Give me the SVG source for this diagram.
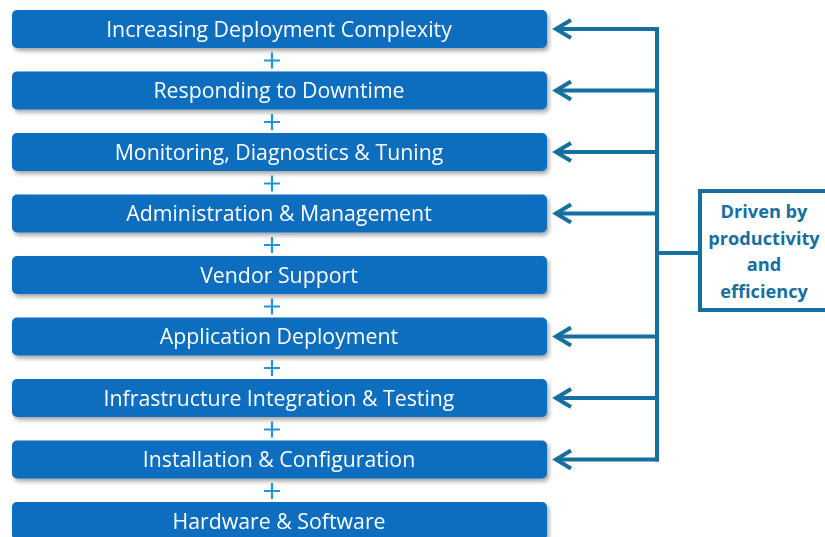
<svg xmlns="http://www.w3.org/2000/svg" width="825" height="537" viewBox="0 0 825 537">
  <style>
    .bar { fill: #0B6DBF; }
    .bar-label { font-family: "Open Sans", "Liberation Sans", sans-serif; font-size: 21.3px; fill: #ffffff; text-anchor: middle; }
    .plus { stroke: #1E97D4; stroke-width: 2.2; fill: none; }
    .link { stroke: #15709F; stroke-width: 4; fill: none; }
    .head { stroke: #15709F; stroke-width: 4; fill: none; stroke-linecap: butt; stroke-linejoin: miter; }
    .note-box { fill: #ffffff; stroke: #15709F; stroke-width: 4; }
    .note-text { font-family: "Open Sans", "Liberation Sans", sans-serif; font-size: 18.2px; font-weight: bold; fill: #15709F; text-anchor: middle; }
  </style>
  <defs>
    <filter id="shadow" x="-5%" y="-30%" width="110%" height="170%">
      <feGaussianBlur in="SourceAlpha" stdDeviation="2"/>
      <feOffset dx="1.5" dy="3" result="b"/>
      <feComponentTransfer><feFuncA type="linear" slope="0.35"/></feComponentTransfer>
      <feMerge><feMergeNode/><feMergeNode in="SourceGraphic"/></feMerge>
    </filter>
    <path id="plusSign" d="M -8 0 H 8 M 0 -8 V 8"/>
  </defs>
  <rect width="825" height="537" fill="#ffffff"/>

  <!-- stacked layers -->
  <g id="layer-1" filter="url(#shadow)"><rect class="bar" x="12" y="10" width="535" height="38" rx="5"/><text class="bar-label" x="279" y="36.5">Increasing Deployment Complexity</text></g>
  <g id="layer-2" filter="url(#shadow)"><rect class="bar" x="12" y="71.5" width="535" height="38" rx="5"/><text class="bar-label" x="279" y="98">Responding to Downtime</text></g>
  <g id="layer-3" filter="url(#shadow)"><rect class="bar" x="12" y="133" width="535" height="38" rx="5"/><text class="bar-label" x="279" y="159.5">Monitoring, Diagnostics &amp; Tuning</text></g>
  <g id="layer-4" filter="url(#shadow)"><rect class="bar" x="12" y="194.5" width="535" height="38" rx="5"/><text class="bar-label" x="279" y="221">Administration &amp; Management</text></g>
  <g id="layer-5" filter="url(#shadow)"><rect class="bar" x="12" y="256" width="535" height="38" rx="5"/><text class="bar-label" x="279" y="282.5">Vendor Support</text></g>
  <g id="layer-6" filter="url(#shadow)"><rect class="bar" x="12" y="317.5" width="535" height="38" rx="5"/><text class="bar-label" x="279" y="344">Application Deployment</text></g>
  <g id="layer-7" filter="url(#shadow)"><rect class="bar" x="12" y="379" width="535" height="38" rx="5"/><text class="bar-label" x="279" y="405.5">Infrastructure Integration &amp; Testing</text></g>
  <g id="layer-8" filter="url(#shadow)"><rect class="bar" x="12" y="440.5" width="535" height="38" rx="5"/><text class="bar-label" x="279" y="467">Installation &amp; Configuration</text></g>
  <g id="layer-9" filter="url(#shadow)"><rect class="bar" x="12" y="502" width="535" height="38" rx="5"/><text class="bar-label" x="279" y="528.5">Hardware &amp; Software</text></g>

  <!-- plus signs between layers -->
  <g id="plus-signs" class="plus">
    <use href="#plusSign" x="272" y="60.5"/>
    <use href="#plusSign" x="272" y="122"/>
    <use href="#plusSign" x="272" y="183.5"/>
    <use href="#plusSign" x="272" y="245"/>
    <use href="#plusSign" x="272" y="306.5"/>
    <use href="#plusSign" x="272" y="368"/>
    <use href="#plusSign" x="272" y="429.5"/>
    <use href="#plusSign" x="272" y="491"/>
  </g>

  <!-- driver note -->
  <g id="driver-note">
    <rect class="note-box" x="700" y="191" width="130" height="119"/>
    <text class="note-text" x="764" y="218">Driven by</text>
    <text class="note-text" x="764" y="244.5">productivity</text>
    <text class="note-text" x="764" y="271">and</text>
    <text class="note-text" x="764" y="297.5">efficiency</text>
  </g>

  <!-- connectors -->
  <g id="connectors">
    <path class="link" d="M 657 27 V 461.5"/>
    <path class="link" d="M 657 253 H 700"/>
    <path class="link" d="M 659 29 H 556"/>
    <path class="link" d="M 657 90.5 H 556"/>
    <path class="link" d="M 657 152 H 556"/>
    <path class="link" d="M 657 213.5 H 556"/>
    <path class="link" d="M 657 336.5 H 556"/>
    <path class="link" d="M 657 398 H 556"/>
    <path class="link" d="M 659 459.5 H 556"/>
    <path class="head" d="M 571 20 L 556 29 L 571 38"/>
    <path class="head" d="M 571 81.5 L 556 90.5 L 571 99.5"/>
    <path class="head" d="M 571 143 L 556 152 L 571 161"/>
    <path class="head" d="M 571 204.5 L 556 213.5 L 571 222.5"/>
    <path class="head" d="M 571 327.5 L 556 336.5 L 571 345.5"/>
    <path class="head" d="M 571 389 L 556 398 L 571 407"/>
    <path class="head" d="M 571 450.5 L 556 459.5 L 571 468.5"/>
  </g>
</svg>
